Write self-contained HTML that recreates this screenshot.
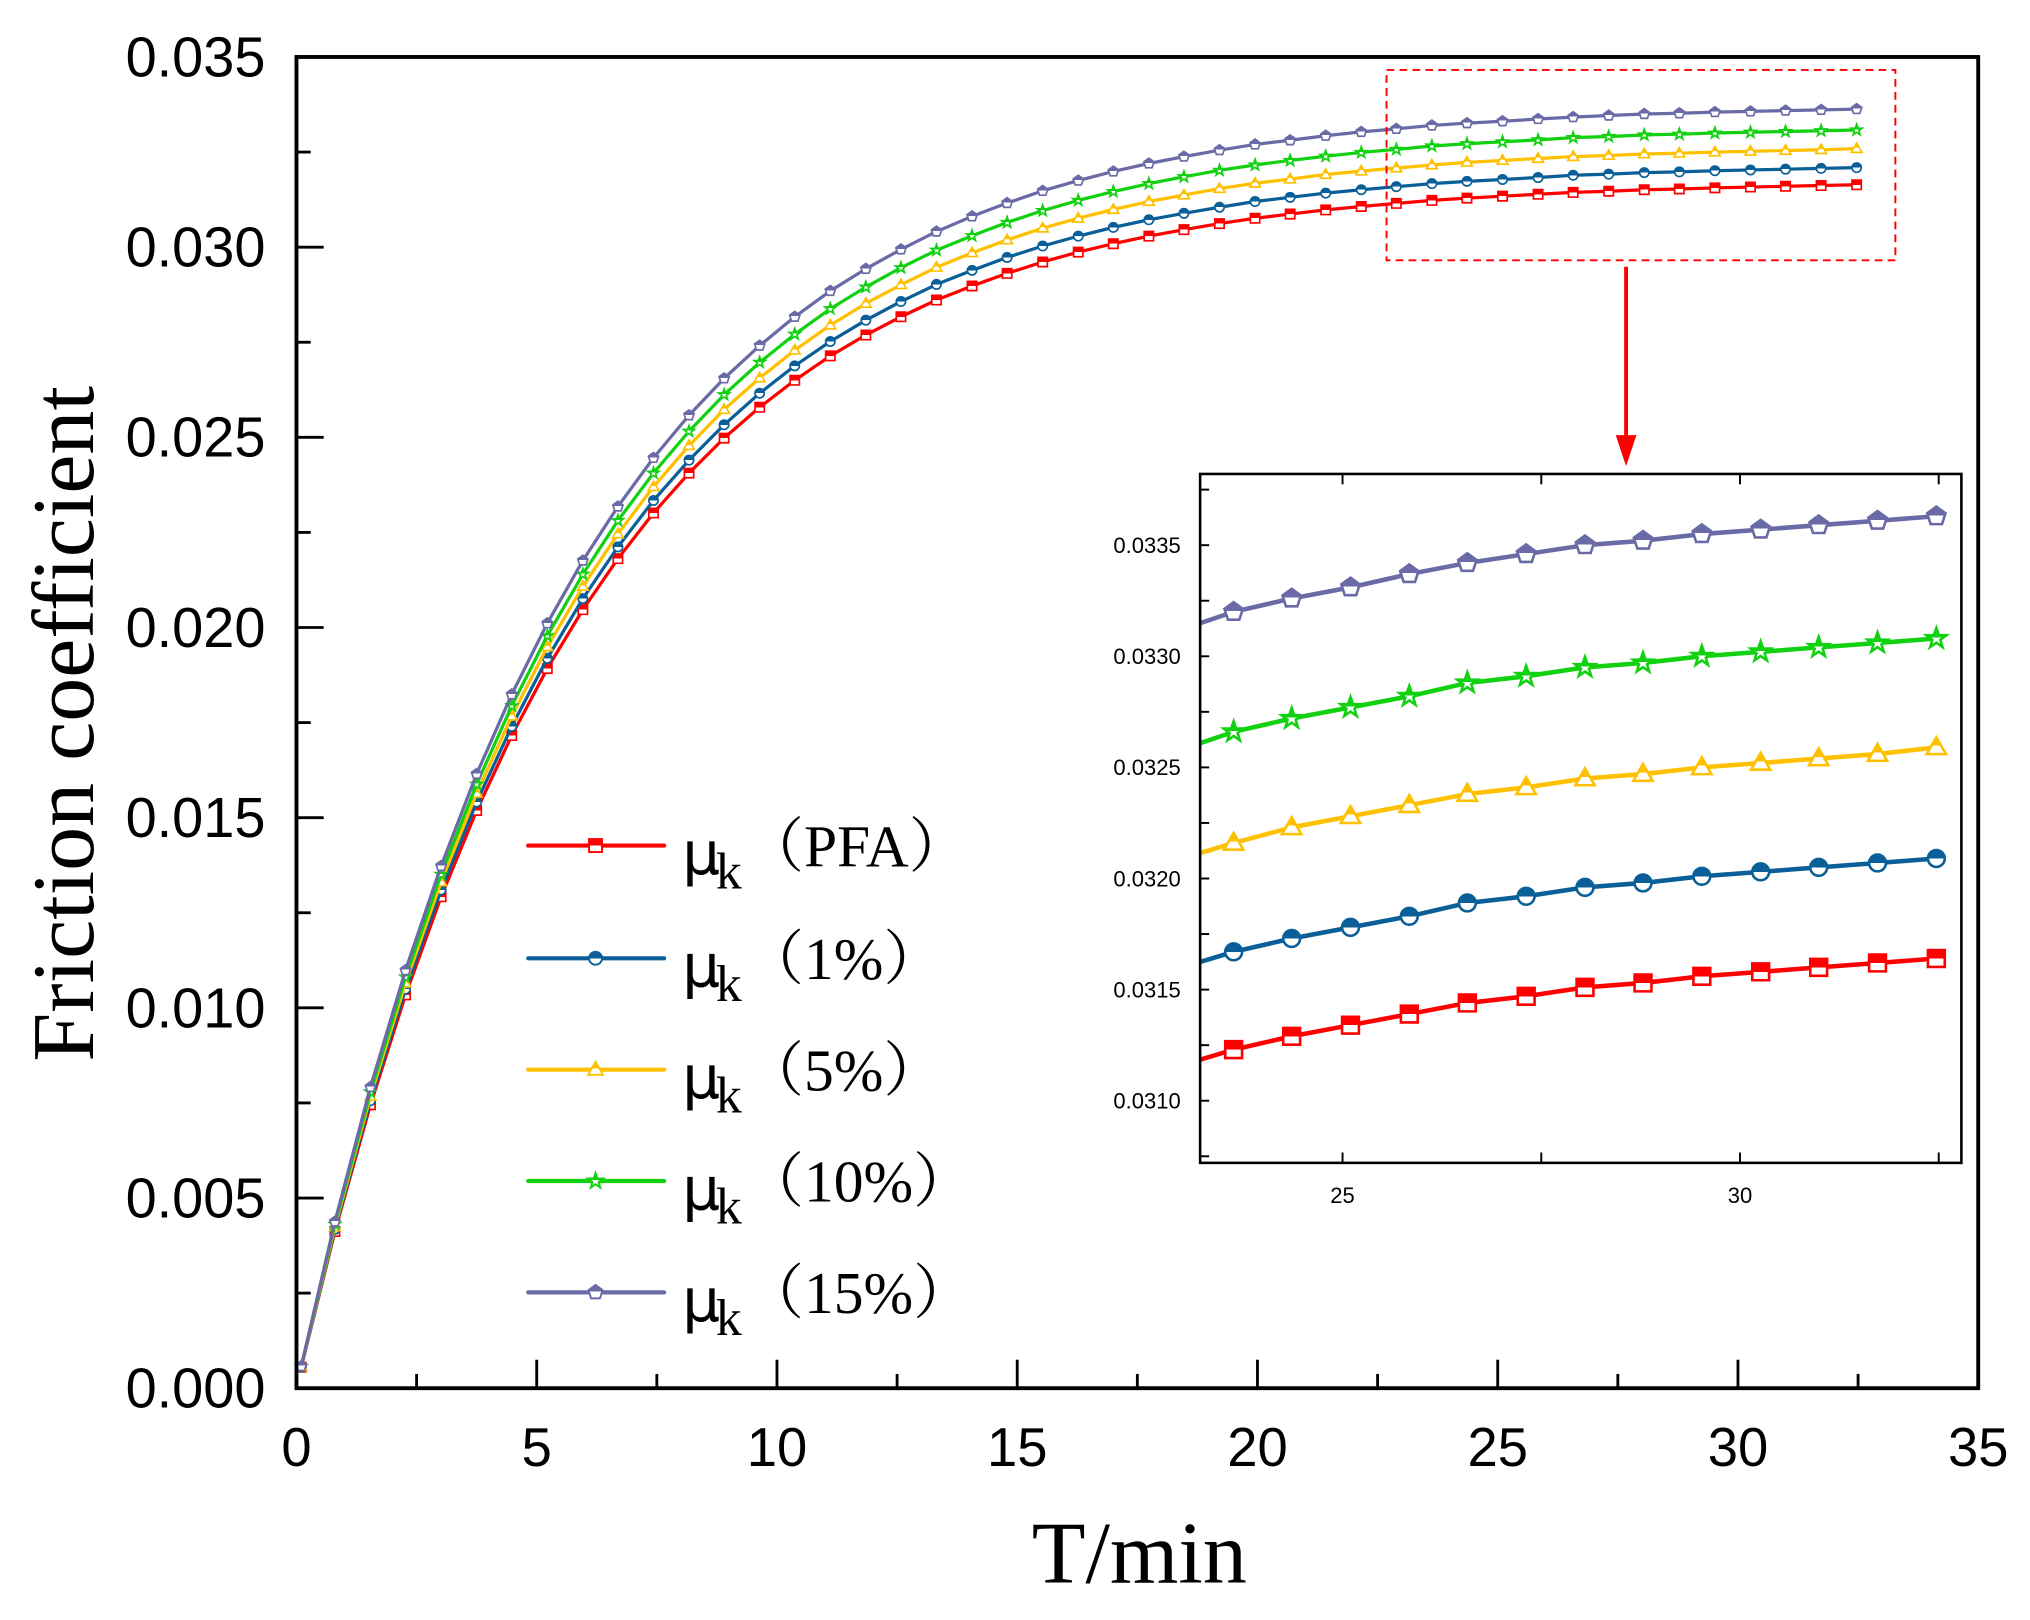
<!DOCTYPE html>
<html><head><meta charset="utf-8"><style>html,body{margin:0;padding:0;background:#fff;width:2030px;height:1620px;overflow:hidden;position:relative}svg{display:block;position:absolute;left:0;top:0}</style></head>
<body>
<svg id="chart" width="2030" height="1620" viewBox="0 0 1568 1251" preserveAspectRatio="none" xmlns="http://www.w3.org/2000/svg" overflow="hidden">
<defs id="defs"></defs>
<rect x="0" y="0" width="1568" height="1251" fill="#fff"/>
<g id="main"></g>
<g id="inset"></g>
<g id="legend"></g>
<text x="72" y="559" transform="rotate(-90 72 559)" text-anchor="middle" font-family="Liberation Serif, serif" font-size="68">Friction coefficient</text>
<text x="880" y="1222" text-anchor="middle" font-family="Liberation Serif, serif" font-size="68">T/min</text>
<rect x="1071" y="54" width="393" height="147" fill="none" stroke="#ff0000" stroke-width="1.5" stroke-dasharray="6,4"/>
<line x1="1256" y1="206" x2="1256" y2="340" stroke="#ff0000" stroke-width="3"/>
<polygon points="1248,336 1264,336 1256,360" fill="#ff0000"/>
</svg>
<script>
const times = [0.1,0.8,1.54,2.27,3.01,3.75,4.48,5.22,5.96,6.69,7.43,8.17,8.90,9.64,10.37,11.11,11.85,12.58,13.32,14.06,14.79,15.53,16.27,17.00,17.74,18.47,19.21,19.95,20.68,21.42,22.16,22.89,23.63,24.36,25.10,25.84,26.57,27.31,28.05,28.78,29.52,30.26,30.99,31.73,32.47];
const seriesPFA = [55,412,745,1034,1292,1519,1716,1892,2047,2181,2301,2406,2498,2579,2650,2714,2769,2817,2861,2898,2931,2961,2987,3009,3029,3046,3062,3076,3087,3098,3107,3115,3123,3129,3134,3139,3144,3147,3151,3153,3156,3158,3160,3162,3164];
const series1 = [56,418,756,1049,1310,1541,1740,1919,2076,2212,2334,2440,2533,2616,2688,2752,2808,2857,2902,2939,2973,3003,3029,3052,3072,3089,3105,3120,3131,3142,3151,3159,3167,3173,3178,3183,3189,3192,3196,3198,3201,3203,3205,3207,3209];
const series5 = [57,424,767,1065,1331,1564,1767,1949,2108,2246,2370,2478,2573,2656,2729,2795,2852,2901,2947,2985,3019,3050,3076,3099,3120,3137,3154,3168,3179,3191,3200,3208,3216,3223,3228,3233,3238,3241,3245,3247,3250,3252,3254,3256,3259];
const series10 = [57,431,779,1081,1351,1588,1794,1978,2140,2281,2406,2516,2612,2697,2771,2838,2895,2946,2992,3030,3065,3096,3123,3146,3167,3185,3202,3216,3228,3239,3249,3257,3266,3272,3277,3282,3288,3291,3295,3297,3300,3302,3304,3306,3308];
const series15 = [58,438,792,1099,1373,1615,1824,2011,2176,2318,2446,2558,2655,2741,2817,2885,2943,2994,3041,3081,3116,3148,3175,3199,3220,3238,3255,3270,3281,3293,3303,3311,3320,3326,3331,3337,3342,3346,3350,3352,3355,3357,3359,3361,3363];
const valueScale = 1e-5;
const seriesNames = ["PFA","1%","5%","10%","15%"];
const yTickLabels = ["0.000","0.005","0.010","0.015","0.020","0.025","0.030","0.035"];
const xTickLabels = ["0","5","10","15","20","25","30","35"];
const insetYTickLabels = ["0.0310","0.0315","0.0320","0.0325","0.0330","0.0335"];
const insetXTickLabels = ["25","30"];

const NS="http://www.w3.org/2000/svg";
const colors=["#ff0000","#0a5f98","#ffc000","#11d111","#6a6aa6"];
const shapes=["square","circle","triangle","star","pentagon"];
const allSeries=[seriesPFA,series1,series5,series10,series15];
function mk(tag,attrs,parent){const e=document.createElementNS(NS,tag);for(const k in attrs)e.setAttribute(k,attrs[k]);parent.appendChild(e);return e;}

const defs=document.getElementById('defs');
colors.forEach((c,i)=>{const g=mk('linearGradient',{id:'hf'+i,x1:0,y1:0,x2:0,y2:1},defs);mk('stop',{offset:'0.5','stop-color':c},g);mk('stop',{offset:'0.5','stop-color':'#fff'},g);});
const cp=mk('clipPath',{id:'insetClip'},defs);mk('rect',{x:927,y:366,width:588,height:532},cp);

function markerPath(shape,x,y,s){
  if(shape==='square')return `M${x-s},${y-s}H${x+s}V${y+s}H${x-s}Z`;
  if(shape==='circle')return `M${x-s},${y}A${s},${s} 0 1 0 ${x+s},${y}A${s},${s} 0 1 0 ${x-s},${y}Z`;
  if(shape==='triangle')return `M${x},${y-s*1.2}L${x+s*1.15},${y+s*0.8}L${x-s*1.15},${y+s*0.8}Z`;
  let pts=[];
  if(shape==='star'){for(let k=0;k<10;k++){const r=k%2?s*0.5:s*1.25,a=-Math.PI/2+k*Math.PI/5;pts.push((x+r*Math.cos(a)).toFixed(2)+','+(y+r*Math.sin(a)).toFixed(2));}}
  else{for(let k=0;k<5;k++){const a=-Math.PI/2+k*2*Math.PI/5;pts.push((x+s*1.15*Math.cos(a)).toFixed(2)+','+(y+s*1.15*Math.sin(a)).toFixed(2));}}
  return 'M'+pts.join('L')+'Z';
}

const mx=t=>229+(t/35)*(1528-229);
const my=v=>1072-(v/0.035)*(1072-44);
const main=document.getElementById('main');
for(let i=0;i<=14;i++){const t=i*2.5,x=mx(t),maj=i%2===0;const l=mk('line',{x1:x,y1:1072,x2:x,y2:maj?1050:1061,stroke:'#000','stroke-width':2.2},main);

}
xTickLabels.forEach((lab,i)=>{const tx=mk('text',{x:mx(i*5),y:1132,'text-anchor':'middle','font-family':'Liberation Sans, sans-serif','font-size':42},main);tx.textContent=lab;

});
for(let i=0;i<=14;i++){const y=my(i*0.0025),maj=i%2===0;const l=mk('line',{x1:229,y1:y,x2:maj?250:240,y2:y,stroke:'#000','stroke-width':2.2},main);

}
yTickLabels.forEach((lab,i)=>{const tx=mk('text',{x:97,y:my(i*0.005)+15,'text-anchor':'start','font-family':'Liberation Sans, sans-serif','font-size':44,textLength:108,lengthAdjust:'spacingAndGlyphs'},main);tx.textContent=lab;

});
allSeries.forEach((s,si)=>{
  const d=s.map((v,i)=>(i?'L':'M')+mx(times[i]).toFixed(2)+','+my(v*valueScale).toFixed(2)).join('');
  const p=mk('path',{d:d,fill:'none',stroke:colors[si],'stroke-width':2.5,'stroke-linejoin':'round'},main);
  
  
  s.forEach((v,i)=>{const m=mk('path',{d:markerPath(shapes[si],mx(times[i]),my(v*valueScale),3.6),fill:'url(#hf'+si+')',stroke:colors[si],'stroke-width':1.3},main);
  
  });
});
const fr=mk('rect',{x:229,y:44,width:1299,height:1028,fill:'none',stroke:'#000','stroke-width':3},main);



const ix=t=>1037+(t-25)*(1344-1037)/5;
const iy=v=>850-(v-0.031)*(850-421)/0.0025;
const inset=document.getElementById('inset');
mk('rect',{x:927,y:366,width:588,height:532,fill:'#fff'},inset);
const ig=mk('g',{'clip-path':'url(#insetClip)'},inset);
allSeries.forEach((s,si)=>{
  const d=s.map((v,i)=>(i?'L':'M')+ix(times[i]).toFixed(2)+','+iy(v*valueScale).toFixed(2)).join('');
  const p=mk('path',{d:d,fill:'none',stroke:colors[si],'stroke-width':3.5,'stroke-linejoin':'round'},ig);
  
  
  s.forEach((v,i)=>{if(times[i]<23)return;const m=mk('path',{d:markerPath(shapes[si],ix(times[i]),iy(v*valueScale),6.5),fill:'url(#hf'+si+')',stroke:colors[si],'stroke-width':2},ig);
  
  });
});
for(let i=0;i<4;i++){const x=ix(25+i*2.5);
 const a=mk('line',{x1:x,y1:898,x2:x,y2:890,stroke:'#000','stroke-width':1.5},inset);
 
 
 const b=mk('line',{x1:x,y1:366,x2:x,y2:374,stroke:'#000','stroke-width':1.5},inset);
 
 }
insetXTickLabels.forEach((lab,i)=>{const tx=mk('text',{x:ix(25+i*5),y:929,'text-anchor':'middle','font-family':'Liberation Sans, sans-serif','font-size':17},inset);tx.textContent=lab;

});
for(let i=-1;i<=12;i++){const v=0.031+i*0.00025,y=iy(v);if(y<366||y>898)continue;const l=mk('line',{x1:927,y1:y,x2:934,y2:y,stroke:'#000','stroke-width':1.5},inset);

}
insetYTickLabels.forEach((lab,i)=>{const tx=mk('text',{x:912,y:iy(0.031+i*0.0005)+6,'text-anchor':'end','font-family':'Liberation Sans, sans-serif','font-size':17},inset);tx.textContent=lab;

});
const ifr=mk('rect',{x:927,y:366,width:588,height:532,fill:'none',stroke:'#000','stroke-width':2},inset);



const legend=document.getElementById('legend');
const legY=[653,740,826,912,998];
seriesNames.forEach((nm,i)=>{
  const g=mk('g',{},legend);
  
  
  mk('line',{x1:408,y1:legY[i],x2:513,y2:legY[i],stroke:colors[i],'stroke-width':3.2,'stroke-linecap':'round'},g);
  mk('path',{d:markerPath(shapes[i],460,legY[i],5),fill:'url(#hf'+i+')',stroke:colors[i],'stroke-width':1.5},g);
  const mu=mk('text',{x:527,y:legY[i]+22,'font-family':'DejaVu Sans, sans-serif','font-size':46},g);mu.textContent='μ';
  const k=mk('text',{x:553,y:legY[i]+33,'font-family':'Liberation Serif, serif','font-size':40},g);k.textContent='k';
  const t=mk('text',{x:575,y:legY[i]+16,'font-family':'Liberation Serif, "Noto Serif CJK SC", serif','font-size':46},g);t.textContent='（'+nm+'）';
});
</script>
</body></html>
